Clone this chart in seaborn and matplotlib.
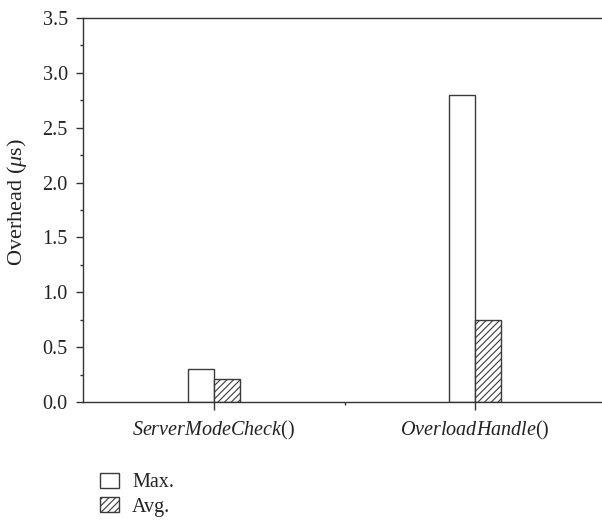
import matplotlib
matplotlib.use("Agg")
import matplotlib.pyplot as plt
from matplotlib.patches import Patch
from matplotlib.ticker import MultipleLocator, FixedLocator
import seaborn as sns
import pandas as pd

functions = ["ServerModeCheck", "OverloadHandle"]
series = ["Max.", "Avg."]
max_overhead = [0.30, 2.80]
avg_overhead = [0.21, 0.75]

df = pd.DataFrame({
    "function": functions * 2,
    "stat": [series[0]] * 2 + [series[1]] * 2,
    "overhead": max_overhead + avg_overhead,
})

sns.set_style("ticks")
plt.rcParams["font.family"] = ["Liberation Serif", "DejaVu Serif"]
plt.rcParams["mathtext.fontset"] = "custom"
plt.rcParams["mathtext.rm"] = "Liberation Serif"
plt.rcParams["mathtext.it"] = "Liberation Serif:italic"
plt.rcParams["hatch.color"] = "#333333"
plt.rcParams["hatch.linewidth"] = 0.8

edge = "#3a3a3a"
txt = "#222222"
fs = 14.5
fig = plt.figure(figsize=(6.02, 5.21), dpi=100)
ax = fig.add_axes([83 / 602, 1 - 402 / 521, 523 / 602, 384 / 521])

sns.barplot(data=df, x="function", y="overhead", hue="stat", hue_order=series,
            order=functions, palette=["white", "white"], width=0.2, gap=0,
            edgecolor=edge, linewidth=1.0, ax=ax, legend=False, errorbar=None)

# hatch the average bars
for bar in ax.containers[1]:
    bar.set_hatch("/////")

ax.set_xlim(-0.5, 1.5)
ax.set_ylim(0, 3.5)
ax.yaxis.set_major_locator(MultipleLocator(0.5))
ax.yaxis.set_minor_locator(MultipleLocator(0.25))
ax.set_yticks(ax.get_yticks())
ax.set_yticklabels([f"{v:.1f}" for v in ax.get_yticks()])
ax.set_ylim(0, 3.5)
ax.xaxis.set_minor_locator(FixedLocator([0.5]))
ax.set_xticks([0, 1])
ax.set_xticklabels([rf"$\it{{{f}}}$()" for f in functions], fontsize=fs)

for side in ["left", "bottom", "top"]:
    ax.spines[side].set_visible(True)
    ax.spines[side].set_color("#333333")
    ax.spines[side].set_linewidth(1.0)
ax.spines["right"].set_visible(False)

ax.tick_params(axis="both", which="major", direction="out", length=5, width=1,
               color="#333333", labelsize=fs, labelcolor=txt)
ax.tick_params(axis="both", which="minor", direction="out", length=2.5, width=1,
               color="#333333")
ax.tick_params(axis="x", which="major", length=6, pad=6)
ax.tick_params(axis="y", which="major", pad=6)
ax.set_xlabel("")
ax.set_ylabel(r"Overhead ($\mu$s)", fontsize=16, color=txt)
ax.yaxis.set_label_coords(-0.104, 0.52)

handles = [Patch(facecolor="white", edgecolor=edge, linewidth=1.0, label=series[0]),
           Patch(facecolor="white", edgecolor=edge, linewidth=1.0, hatch="/////",
                 label=series[1])]
fig.legend(handles=handles, loc="upper left", bbox_to_anchor=(100 / 602, 1 - 473 / 521),
           frameon=False, borderpad=0, borderaxespad=0, handlelength=0.95,
           handleheight=0.75, handletextpad=0.65, labelspacing=0.25, fontsize=fs,
           labelcolor=txt)

fig.savefig("out.png", dpi=100, facecolor="white")
